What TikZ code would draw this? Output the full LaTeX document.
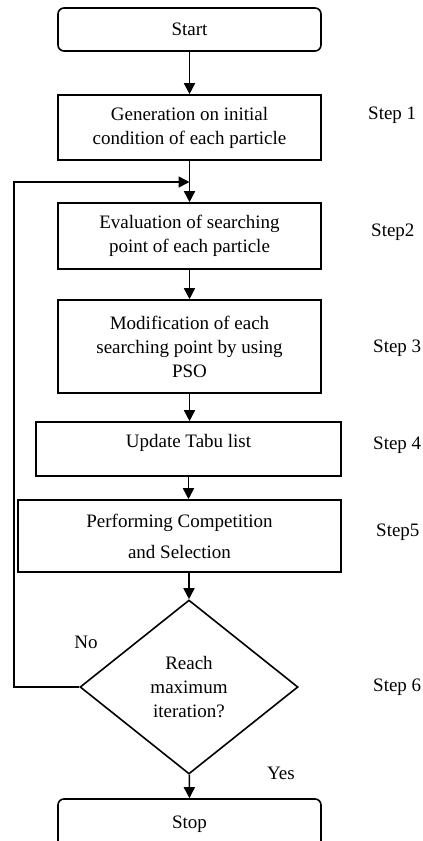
\documentclass[tikz,border=0pt]{standalone}
\usepackage{fontspec}
\setmainfont{Liberation Serif}
\usetikzlibrary{shapes.geometric,arrows.meta}
\tikzset{
  stepbox/.style={draw, line width=1.6pt, minimum width=263pt, align=center, inner sep=2pt},
  termbox/.style={stepbox, rounded corners=6pt},
  decision/.style={draw, diamond, line width=1.6pt, minimum width=218pt, minimum height=174pt, inner sep=0pt, align=center},
  flow/.style={line width=1.6pt, -{Triangle[length=11pt,width=11pt]}},
  steplabel/.style={anchor=west, inner sep=0pt}
}
\begin{document}
\begin{tikzpicture}[x=1pt, y=-1pt, font=\fontsize{19}{24}\selectfont]
	\clip (0,0) rectangle (423,841);
	% Kaesten
	\node [termbox, minimum height=43pt] (start) at (189.5,29.5) {Start};
	\node [stepbox, minimum height=65pt] (init) at (189.5,127.5) {Generation on initial\\condition of each particle};
	\node [stepbox, minimum height=66pt] (eval) at (189.5,236) {Evaluation of searching\\point of each particle};
	\node [stepbox, minimum height=93pt] (modify) at (189.5,346.5) {Modification of each\\searching point by using\\PSO};
	\node [stepbox, minimum width=305pt, minimum height=54pt] (tabu) at (188.5,449) {\raisebox{6pt}[\height][\depth]{Update Tabu list}};
	\node [stepbox, minimum width=323pt, minimum height=72pt] (select) at (179.5,536) {Performing Competition\\[7pt]and Selection};
	\node [decision] (check) at (189,687) {Reach\\maximum\\iteration?};
	\node [termbox, minimum height=50pt] (stop) at (189.5,824) {Stop};
	% Schritte
	\node [steplabel] (s1) at (368,115) {Step 1};
	\node [steplabel] (s2) at (371,232) {Step2};
	\node [steplabel] (s3) at (373,348) {Step 3};
	\node [steplabel] (s4) at (373,445) {Step 4};
	\node [steplabel] (s5) at (376,532) {Step5};
	\node [steplabel] (s6) at (373,687) {Step 6};
	\node (no) at (86,642) {No};
	\node (yes) at (281,773) {Yes};
	% Pfeile
	\coordinate (join) at (189.5,182);
	\coordinate (back) at (14,182);
	\draw [flow] (start) -- (init);
	\draw [flow] (init) -- (eval);
	\draw [flow] (eval) -- (modify);
	\draw [flow] (modify.south) -- (modify.south |- tabu.north);
	\draw [flow] (check.north |- select.south) -- (check.north);
	\draw [flow] (tabu.south) -- (tabu.south |- select.north);
	\draw [flow] (check) -- (stop);
	\draw [flow] (check.west) -| (back) -- (join);
\end{tikzpicture}
\end{document}
